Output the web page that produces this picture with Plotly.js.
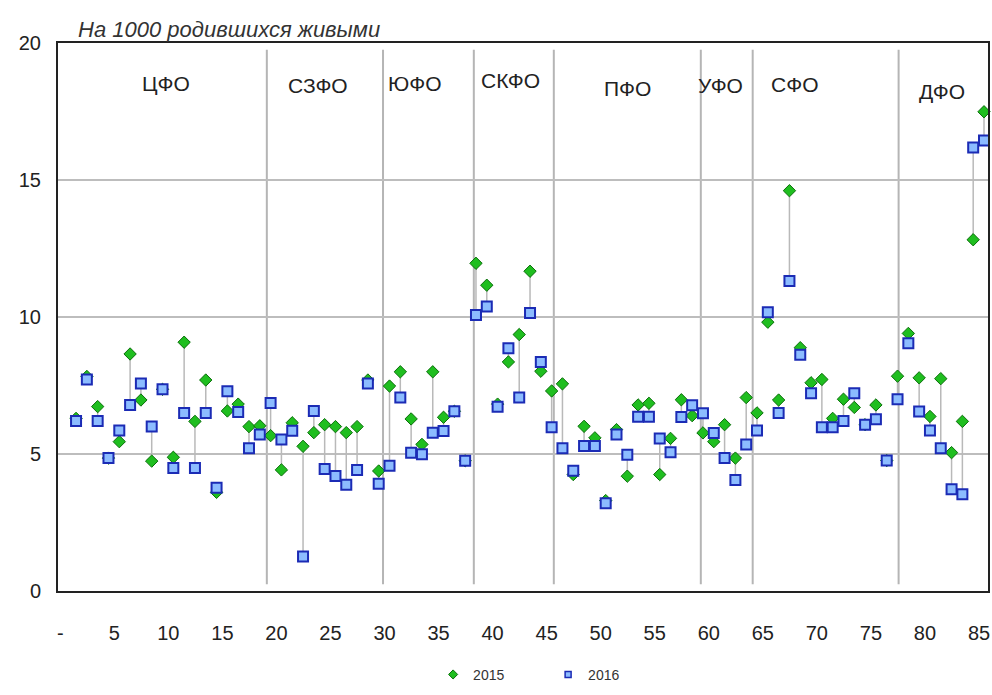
<!DOCTYPE html>
<html><head><meta charset="utf-8">
<script src="https://cdn.plot.ly/plotly-3.0.1.min.js"></script>
<style>html,body{margin:0;padding:0;background:#fff}#chart{width:992px;height:695px}</style>
</head><body><div id="chart"></div>
<script>
const regionNo = [1,2,3,4,5,6,7,8,9,10,11,12,13,14,15,16,17,18,19,20,21,22,23,24,25,26,27,28,29,30,31,32,33,34,35,36,37,38,39,40,41,42,43,44,45,46,47,48,49,50,51,52,53,54,55,56,57,58,59,60,61,62,63,64,65,66,67,68,69,70,71,72,73,74,75,76,77,78,79,80,81,82,83,84,85];
const rate2015 = [6.3,7.83,6.73,4.85,5.45,8.65,6.97,4.74,7.36,4.88,9.08,6.19,7.70,3.6,6.57,6.82,6.0,6.03,5.67,4.42,6.14,5.28,5.78,6.07,6.0,5.78,6.0,7.7,4.38,7.48,8.0,6.28,5.35,8.0,6.34,6.56,4.75,11.96,11.16,6.82,8.36,9.36,11.67,8.02,7.30,7.56,4.25,6.01,5.59,3.3,5.89,4.19,6.79,6.85,4.25,5.57,6.98,6.40,5.77,5.45,6.07,4.85,7.06,6.50,9.81,6.97,14.61,8.88,7.60,7.72,6.30,7.0,6.70,6.07,6.79,4.76,7.84,9.40,7.78,6.37,7.75,5.05,6.19,12.82,17.49];
const rate2016 = [6.20,7.72,6.20,4.85,5.86,6.79,7.57,6.0,7.36,4.49,6.5,4.49,6.5,3.77,7.29,6.53,5.21,5.71,6.86,5.53,5.85,1.26,6.57,4.45,4.2,3.88,4.42,7.57,3.91,4.57,7.06,5.05,4.99,5.78,5.84,6.56,4.75,10.07,10.38,6.72,8.86,7.06,10.15,8.36,5.98,5.21,4.39,5.29,5.29,3.20,5.71,4.97,6.36,6.36,5.57,5.06,6.35,6.78,6.49,5.77,4.85,4.05,5.35,5.86,10.17,6.50,11.31,8.62,7.22,5.98,5.98,6.2,7.22,6.07,6.27,4.76,7.0,9.04,6.55,5.86,5.21,3.71,3.53,16.19,16.44];
const districtNames = ["ЦФО","СЗФО","ЮФО","СКФО","ПФО","УФО","СФО","ДФО"];
const districtLabelX = [9.3,23.4,32.4,41.15,52.0,60.6,67.5,81.1];
const districtLabelY = [18.53,18.46,18.53,18.64,18.35,18.46,18.5,18.24];
const districtBorders = [18.65,29.4,37.8,45.2,58.8,63.6,77.1];
const xTickVals = [0,5,10,15,20,25,30,35,40,45,50,55,60,65,70,75,80,85];
const xTickText = ["-","5","10","15","20","25","30","35","40","45","50","55","60","65","70","75","80","85"];
const yTickVals = [0,5,10,15,20];
const seriesNames = ["2015","2016"];

const FONT = "Liberation Sans, Arial, sans-serif";
const green = {symbol:"diamond", size:9.5, color:"#1fbe1f", line:{color:"#0b6e0b", width:1}};
const blue = {symbol:"square", size:10, color:"#8cbcff", line:{color:"#1b2bb5", width:2}};

const cx = [], cy = [];
for (let i = 0; i < regionNo.length; i++) {
  cx.push(regionNo[i], regionNo[i], null);
  cy.push(rate2015[i], rate2016[i], null);
}

const traces = [
  {x: cx, y: cy, mode: "lines", line:{color:"#b9b9b9", width:1.5}, showlegend:false, hoverinfo:"skip", cliponaxis:false},
  {x: regionNo, y: rate2015, mode:"markers", marker: green, name: seriesNames[0], showlegend:false, cliponaxis:false},
  {x: regionNo, y: rate2016, mode:"markers", marker: blue, name: seriesNames[1], showlegend:false, cliponaxis:false},
  {x:[null], y:[null], mode:"markers", name: seriesNames[0], marker:{symbol:"diamond", size:7, color:"#1fbe1f", line:{color:"#0b6e0b", width:1}}},
  {x:[null], y:[null], mode:"markers", name: seriesNames[1], marker:{symbol:"square", size:6, color:"#8cbcff", line:{color:"#1b2bb5", width:1.5}}}
];

const shapes = districtBorders.map(b => ({type:"line", xref:"x", yref:"y", x0:b, x1:b, y0:0.25, y1:19.75, line:{color:"#b5b5b5", width:2}, layer:"below"}));

const annotations = districtNames.map((t, i) => ({
  text: t, x: districtLabelX[i], y: districtLabelY[i], xref:"x", yref:"y",
  showarrow:false, font:{family:FONT, size:21, color:"#222"}, xanchor:"center", yanchor:"middle"
}));

const layout = {
  width: 992, height: 695,
  margin: {l:58, r:4, t:43, b:95},
  paper_bgcolor:"#fff", plot_bgcolor:"#fff",
  font: {family: FONT, color:"#222"},
  title: {text:"<i>На 1000 родившихся живыми</i>", xref:"container", yref:"container", x:78/992, xanchor:"left", y:1-29/695, yanchor:"middle", font:{family:FONT, size:22, color:"#333"}},
  xaxis: {range:[-0.67, 85.37], tickvals:xTickVals, ticktext:xTickText, showgrid:false, zeroline:false,
          showline:true, mirror:true, linecolor:"#222", linewidth:2, ticks:"", ticklabelstandoff:23, ticklabelshift:-5,
          tickfont:{family:FONT, size:20, color:"#222"}},
  yaxis: {range:[0,20], tickvals:yTickVals, showgrid:true, gridcolor:"#bdbdbd", gridwidth:1.5, zeroline:false,
          showline:true, mirror:true, linecolor:"#222", linewidth:2, ticks:"", ticklabelstandoff:11,
          tickfont:{family:FONT, size:20, color:"#222"}},
  shapes: shapes,
  annotations: annotations,
  showlegend: true,
  legend: {orientation:"h", x:0.527, xanchor:"center", y:-0.153, yanchor:"middle", entrywidth:70, entrywidthmode:"pixels",
           font:{family:FONT, size:14, color:"#333"}, itemwidth:30}
};

Plotly.newPlot("chart", traces, layout, {displayModeBar:false, staticPlot:true});
</script></body></html>
